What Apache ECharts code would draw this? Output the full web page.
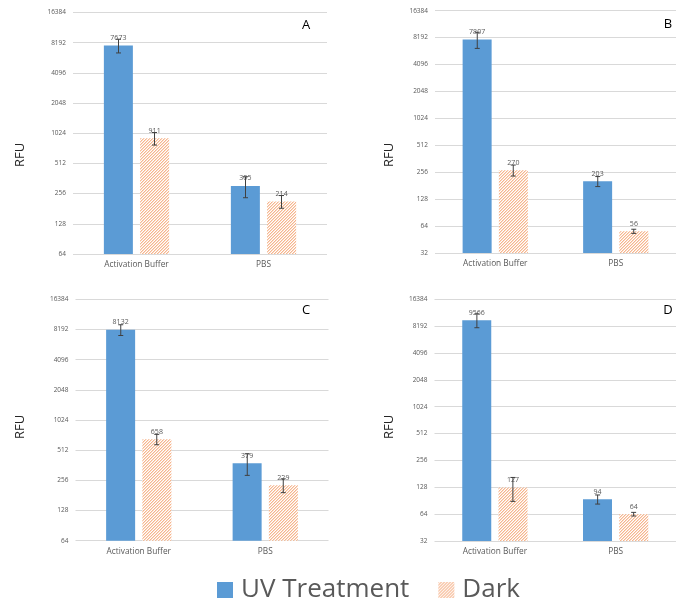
<!DOCTYPE html>
<html>
<head>
<meta charset="utf-8">
<script src="https://cdn.jsdelivr.net/npm/echarts@6/dist/echarts.min.js"></script>
<style>html,body{margin:0;padding:0;background:#fff}#c{width:676px;height:600px}</style>
</head>
<body>
<div id="c"></div>
<script>
// ---- data ----
const categories = ['Activation Buffer', 'PBS'];
const seriesNames = ['UV Treatment', 'Dark'];
const panelLabels = ['A', 'B', 'C', 'D'];
const uvA = [7673, 305], darkA = [911, 214], uvErrA = [1200, 72], darkErrA = [130, 31];
const uvB = [7807, 203], darkB = [270, 56], uvErrB = [1600, 26], darkErrB = [38, 3];
const uvC = [8132, 379], darkC = [658, 229], uvErrC = [1000, 92], darkErrC = [78, 36];
const uvD = [9566, 94], darkD = [127, 64], uvErrD = [1700, 11], darkErrD = [38, 3];
const yMin = [64, 32, 64, 32];
const yMax = [16384, 16384, 16384, 16384];

// ---- styling ----
const FONT = 'Open Sans';
const GRAY = '#595959';
const BLUE = '#5B9BD5';
function hatch() {
  const c = document.createElement('canvas');
  c.width = 3; c.height = 3;
  const ctx = c.getContext('2d');
  ctx.fillStyle = '#ffffff'; ctx.fillRect(0, 0, 3, 3);
  for (let i = 0; i < 3; i++) {
    ctx.fillStyle = '#F6B58E'; ctx.fillRect(i, 2 - i, 1, 1);
    ctx.fillStyle = '#FBDCC8'; ctx.fillRect((i + 1) % 3, 2 - i, 1, 1);
  }
  return { image: c, repeat: 'repeat' };
}
const HATCH = hatch();

const panels = [
  { uv: uvA, dark: darkA, uvErr: uvErrA, darkErr: darkErrA },
  { uv: uvB, dark: darkB, uvErr: uvErrB, darkErr: darkErrB },
  { uv: uvC, dark: darkC, uvErr: uvErrC, darkErr: darkErrC },
  { uv: uvD, dark: darkD, uvErr: uvErrD, darkErr: darkErrD }
];
const grids = [
  { left: 73, top: 12.5, width: 254, height: 241.5 },
  { left: 435, top: 10.7, width: 253, height: 242.3 },
  { left: 75.5, top: 299.3, width: 253, height: 241.4 },
  { left: 434.5, top: 299.3, width: 254, height: 241.7 }
];
const rfuPos = [[20.5, 155], [389, 155], [20.5, 427], [389, 427]];
const letterPos = [[306, 25], [668, 24], [306, 310], [668, 310]];

const BAR_W = 29, OFFSET = 18;

function errSeries(i, vals, errs, off) {
  return {
    type: 'custom', xAxisIndex: i, yAxisIndex: i, z: 10, silent: true,
    encode: { x: 0, y: 1 },
    data: vals.map((v, k) => [k, v, errs[k]]),
    renderItem: function (params, api) {
      const k = api.value(0), v = api.value(1), e = api.value(2);
      const hi = api.coord([k, v + e]);
      const lo = api.coord([k, v - e]);
      const x = hi[0] + off;
      const st = { stroke: '#404040', lineWidth: 1 };
      return {
        type: 'group', children: [
          { type: 'line', shape: { x1: x, y1: hi[1], x2: x, y2: lo[1] }, style: st },
          { type: 'line', shape: { x1: x - 2.5, y1: hi[1], x2: x + 2.5, y2: hi[1] }, style: st },
          { type: 'line', shape: { x1: x - 2.5, y1: lo[1], x2: x + 2.5, y2: lo[1] }, style: st }
        ]
      };
    }
  };
}

const series = [];
const xAxis = [], yAxis = [];
panels.forEach((p, i) => {
  xAxis.push({
    gridIndex: i, type: 'category', data: categories,
    axisLine: { show: false }, axisTick: { show: false },
    axisLabel: { color: GRAY, fontFamily: FONT, fontSize: 8.3, margin: 7 }
  });
  yAxis.push({
    gridIndex: i, type: 'log', logBase: 2, min: yMin[i], max: yMax[i], interval: 1,
    axisLine: { show: false }, axisTick: { show: false },
    axisLabel: { color: GRAY, fontFamily: FONT, fontSize: 6.5, margin: 7,
      formatter: function (v) { return String(Math.round(v)); } },
    splitLine: { lineStyle: { color: '#D9D9D9', width: 1 } }
  });
  const lbl = { show: true, position: 'top', distance: 4, color: GRAY, fontFamily: FONT, fontSize: 7 };
  series.push({
    type: 'bar', name: seriesNames[0], xAxisIndex: i, yAxisIndex: i,
    data: p.uv, barWidth: BAR_W, barGap: '25%',
    itemStyle: { color: BLUE }, label: lbl
  });
  series.push({
    type: 'bar', name: seriesNames[1], xAxisIndex: i, yAxisIndex: i,
    data: p.dark, barWidth: BAR_W, barGap: '25%',
    itemStyle: { color: HATCH }, label: lbl
  });
  series.push(errSeries(i, p.uv, p.uvErr, -OFFSET));
  series.push(errSeries(i, p.dark, p.darkErr, OFFSET));
});

const graphic = [];
panels.forEach((p, i) => {
  graphic.push({
    type: 'text', x: rfuPos[i][0], y: rfuPos[i][1], rotation: Math.PI / 2,
    style: { text: 'RFU', fill: '#262626', font: '13px "' + FONT + '"', align: 'center', verticalAlign: 'middle' }
  });
  graphic.push({
    type: 'text', x: letterPos[i][0], y: letterPos[i][1],
    style: { text: panelLabels[i], fill: '#000', font: '13px "' + FONT + '"', align: 'center', verticalAlign: 'middle' }
  });
});

const chart = echarts.init(document.getElementById('c'), null, { renderer: 'canvas' });
chart.setOption({
  animation: false,
  backgroundColor: '#fff',
  grid: grids,
  xAxis: xAxis,
  yAxis: yAxis,
  series: series,
  graphic: graphic,
  legend: {
    data: seriesNames, left: 212, top: 572,
    itemWidth: 16, itemHeight: 16, itemGap: 29,
    icon: 'rect',
    textStyle: { color: GRAY, fontFamily: FONT, fontSize: 26, padding: [0, 0, 0, 3] }
  }
});
</script>
</body>
</html>
